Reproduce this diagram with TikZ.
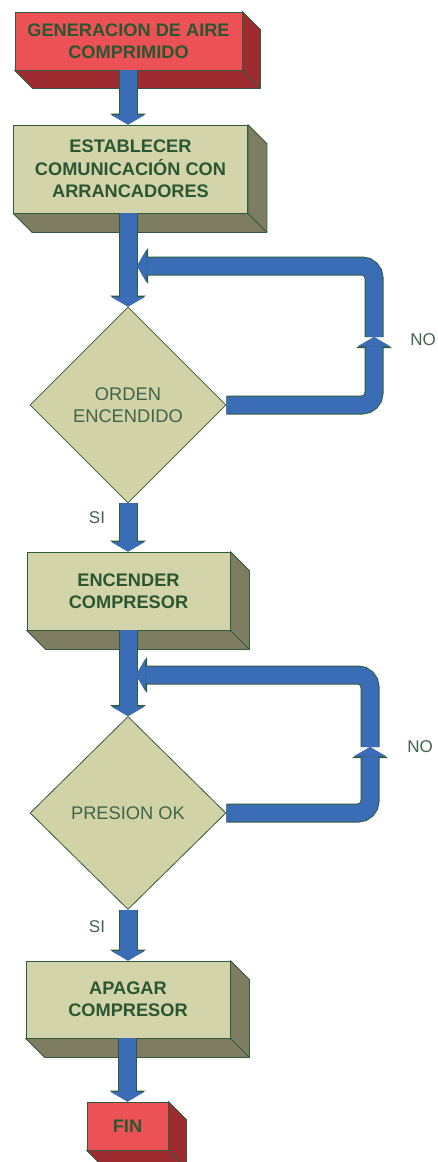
\documentclass[tikz,border=0pt]{standalone}
\usepackage{fontspec}
\setmainfont{Liberation Sans}
\usetikzlibrary{shapes.geometric,arrows.meta}

\definecolor{redfront}{HTML}{EC5156}
\definecolor{redside}{HTML}{9E2B30}
\definecolor{khaki}{HTML}{D3D4A9}
\definecolor{khakiside}{HTML}{7E7D62}
\definecolor{decfill}{HTML}{D1D2A6}
\definecolor{edge}{HTML}{2E5B3C}
\definecolor{flowblue}{HTML}{3A6DB5}
\definecolor{boxtext}{HTML}{2A5631}
\definecolor{labtext}{HTML}{3F6449}

% right and bottom faces of a raised box
\newcommand\extrude[3]{%
  \filldraw[fill=#3, draw=edge, line width=0.8pt, line join=round]
    (#1.north east) -- ++(#2,-#2)
    -- ([shift={(#2,-#2)}]#1.south east)
    -- ([shift={(#2,-#2)}]#1.south west)
    -- (#1.south west) -- (#1.south east) -- cycle;
  \draw[edge, line width=0.8pt] (#1.south east) -- ++(#2,-#2);
}

\tikzset{
  boxnode/.style={draw=edge, line width=0.8pt, rectangle, align=center,
    text=boxtext, inner sep=0pt,
    font=\fontsize{18.2}{22.3}\selectfont\bfseries},
  startend/.style={boxnode, fill=redfront},
  process/.style={boxnode, fill=khaki},
  decision/.style={draw=edge, line width=0.8pt, diamond, aspect=1,
    fill=decfill, inner sep=0pt, align=center, text=labtext,
    font=\fontsize{18.3}{22}\selectfont},
  lab/.style={text=labtext, font=\fontsize{17}{20}\selectfont},
  fat/.style={line width=17pt, draw=flowblue, rounded corners=12pt,
    -{Triangle[width=33pt,length=9.4pt,line width=0pt,fill=flowblue,color=flowblue]},
    preaction={draw=edge, line width=19pt,
      -{Triangle[width=36pt,length=11pt,line width=0pt,fill=edge,color=edge]}}}
}

\begin{document}
\begin{tikzpicture}[x=1pt,y=1pt]
\useasboundingbox (0,0) rectangle (438,-1162);

% boxes and decisions
\node[startend, minimum width=227pt, minimum height=58pt] (b1) at (128.5,-41)
  {GENERACION DE AIRE\\COMPRIMIDO};
\extrude{b1}{18}{redside}

\node[process, minimum width=234pt, minimum height=88pt] (b2) at (130.5,-169)
  {ESTABLECER\\COMUNICACIÓN CON\\ARRANCADORES};
\extrude{b2}{19}{khakiside}

\node[decision, minimum width=196pt, minimum height=196pt] (d1) at (128,-405)
  {ORDEN\\ENCENDIDO};

\node[process, minimum width=203pt, minimum height=78pt] (b3) at (128.5,-591)
  {ENCENDER\\COMPRESOR};
\extrude{b3}{19}{khakiside}

\node[decision, minimum width=196pt, minimum height=193pt] (d2) at (128,-813)
  {PRESION OK};

\node[process, minimum width=204pt, minimum height=77pt] (b4) at (128,-999.5)
  {APAGAR\\COMPRESOR};
\extrude{b4}{19}{khakiside}

\node[startend, minimum width=81pt, minimum height=48pt] (fin) at (127.5,-1126)
  {FIN};
\extrude{fin}{18}{redside}

% labels
\node[lab] (no1) at (423,-340) {NO};
\node[lab] (no2) at (420,-747) {NO};
\node[lab] (si1) at (97,-518) {SI};
\node[lab] (si2) at (97,-927) {SI};

% loop points
\coordinate (n1) at (374,-337);
\coordinate (j1) at (137,-266);
\coordinate (n2) at (370,-747);
\coordinate (j2) at (136,-675);

% main flow
\draw[fat] (b1.south -| d1.north) -- (b2.north -| d1.north);
\draw[fat] (b2.south -| d1.north) -- (d1.north);
\draw[fat] (d1.south) -- (b3.north -| d1.south);
\draw[fat] (b3.south -| d2.north) -- (d2.north);
\draw[fat] (d2.south) -- (b4.north -| d2.south);
\draw[fat] (b4.south -| fin.north) -- (fin.north);

% NO loops
\draw[fat] (d1.east) -| (n1);
\draw[fat] (n1) |- (j1);
\draw[fat] (d2.east) -| (n2);
\draw[fat] (n2) |- (j2);
\end{tikzpicture}
\end{document}
